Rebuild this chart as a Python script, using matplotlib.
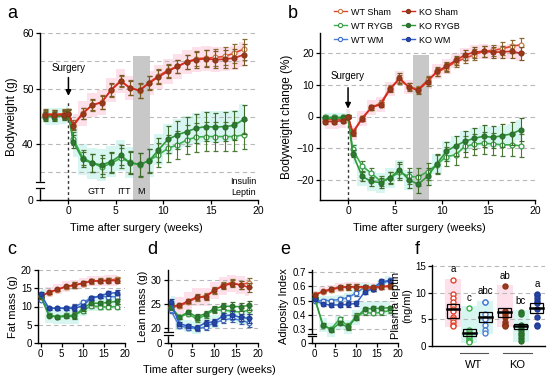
import matplotlib
matplotlib.use('Agg')
import matplotlib.pyplot as plt
from matplotlib.lines import Line2D
from matplotlib.patches import Rectangle
from matplotlib.transforms import blended_transform_factory

plt.rcParams['font.family'] = ['Liberation Sans', 'DejaVu Sans']

# ---------------- data ----------------
weeks_ab = [-2.5, -1.5, -0.5, 0, 0.5, 1.5, 2.5, 3.5, 4.5, 5.5, 6.5, 7.5, 8.5, 9.5,
            10.5, 11.5, 12.5, 13.5, 14.5, 15.5, 16.5, 17.5, 18.5]

bw_ko_sham = [45.3, 45.3, 45.3, 45.5, 43.3, 45.5, 47.1, 47.5, 49.8, 51.4, 50.1, 49.7, 51.0,
              52.1, 53.1, 54.0, 54.8, 55.2, 55.4, 55.2, 55.3, 55.5, 56.1]
bw_wt_sham = [45.5, 45.4, 45.5, 45.6, 43.5, 45.6, 47.0, 47.6, 49.7, 51.3, 50.2, 49.6, 51.1,
              52.3, 53.3, 54.0, 54.8, 55.4, 55.5, 55.6, 55.8, 56.4, 57.1]
bw_ko_rygb = [45.0, 45.0, 45.1, 45.4, 40.5, 37.3, 36.6, 36.3, 36.9, 38.0, 36.7, 36.4, 37.0,
              39.0, 40.9, 41.7, 42.3, 42.9, 43.2, 43.1, 43.2, 43.4, 44.5]
bw_wt_rygb = [45.2, 45.2, 45.3, 45.5, 41.0, 37.6, 36.7, 35.9, 36.6, 37.5, 36.8, 36.3, 37.1,
              38.1, 39.3, 39.9, 40.8, 41.3, 41.4, 41.4, 41.4, 41.4, 41.7]
bw_err_sham = [0.8, 0.8, 0.8, 0.8, 0.8, 1.0, 1.0, 1.2, 1.2, 1.0, 1.3, 1.3, 1.2, 1.2, 1.2,
               1.2, 1.3, 1.4, 1.5, 1.5, 1.6, 1.7, 1.9]
bw_err_rygb = [0.8, 0.8, 0.8, 0.8, 1.2, 1.4, 1.6, 1.7, 1.8, 1.8, 2.0, 2.1, 2.1, 2.2, 2.4,
               2.5, 2.6, 2.6, 2.6, 2.6, 2.6, 2.6, 2.6]

pc_ko_sham = [-1.6, -1.6, -1.3, 0.0, -5.3, -0.7, 2.9, 3.8, 8.7, 12.2, 9.3, 8.3, 11.1, 14.3,
              15.9, 17.8, 19.5, 20.4, 20.7, 20.4, 20.5, 20.7, 20.0]
pc_wt_sham = [-1.0, -1.0, -0.8, 0.0, -5.0, -0.5, 2.8, 4.3, 9.0, 11.7, 9.5, 8.6, 11.5, 14.0,
              15.5, 17.3, 18.5, 19.6, 20.7, 21.0, 21.5, 22.3, 22.8]
pc_ko_rygb = [-0.5, -0.5, -0.4, 0.0, -11.8, -19.0, -20.6, -21.0, -19.4, -16.9, -20.1, -21.5,
              -19.0, -15.0, -11.1, -9.3, -7.9, -6.9, -6.3, -6.6, -6.1, -5.5, -4.2]
pc_wt_rygb = [-0.2, -0.3, -0.2, 0.0, -10.4, -15.7, -18.0, -20.6, -19.5, -17.7, -19.0, -19.2,
              -17.5, -15.3, -12.7, -12.2, -9.5, -8.8, -8.5, -8.7, -9.0, -9.0, -9.3]
pc_err_sham = [0.8, 0.8, 0.8, 0.5, 1.0, 0.8, 0.8, 0.8, 1.0, 1.5, 1.2, 1.2, 1.3, 1.3, 1.5,
               1.5, 1.5, 1.8, 1.8, 1.8, 2.0, 2.0, 2.2]
pc_err_rygb = [0.8, 0.8, 0.8, 0.5, 1.2, 1.5, 1.5, 1.6, 1.8, 2.5, 2.5, 2.8, 2.8, 3.0, 3.0,
               3.2, 3.3, 3.4, 3.5, 3.5, 3.6, 3.6, 3.6]

weeks_cde = [0, 2, 4, 6, 8, 10, 12, 14, 16, 18]

fat_ko_sham = [12.7, 13.9, 14.7, 15.5, 15.9, 16.4, 17.0, 17.0, 17.1, 17.1]
fat_wt_sham = [13.0, 13.8, 14.6, 15.4, 15.8, 16.3, 16.9, 17.1, 17.2, 17.5]
fat_ko_rygb = [12.9, 7.5, 7.1, 7.3, 7.3, 9.5, 10.9, 10.9, 11.1, 11.4]
fat_wt_rygb = [12.9, 7.7, 7.2, 7.6, 7.6, 8.8, 10.2, 10.0, 9.8, 10.0]
fat_ko_wm = [13.5, 9.5, 9.5, 9.5, 9.5, 10.2, 12.3, 12.9, 13.6, 13.8]
fat_wt_wm = [11.8, 9.6, 9.5, 9.6, 9.8, 11.1, 12.3, 12.8, 12.7, 12.7]
fat_err = [0.4, 0.4, 0.4, 0.5, 0.8, 0.6, 0.6, 0.6, 0.6, 0.6]

lean_ko_sham = [24.6, 24.8, 25.7, 26.5, 26.5, 27.9, 28.8, 29.3, 29.0, 28.5]
lean_wt_sham = [24.4, 24.6, 25.5, 26.3, 26.8, 27.8, 29.0, 29.5, 29.0, 29.5]
lean_ko_rygb = [24.5, 22.4, 23.4, 22.4, 23.1, 24.1, 24.6, 24.6, 24.5, 24.8]
lean_wt_rygb = [24.3, 22.3, 23.1, 21.9, 22.8, 23.8, 23.8, 23.6, 23.4, 23.8]
lean_ko_wm = [25.5, 21.0, 20.5, 20.2, 21.2, 21.4, 22.6, 22.8, 22.3, 22.1]
lean_wt_wm = [23.8, 20.5, 20.2, 20.0, 20.3, 21.2, 21.7, 22.1, 21.7, 21.2]
lean_err = [0.6, 0.4, 0.5, 0.6, 0.6, 0.6, 0.6, 0.8, 0.8, 0.9]

adi_ko_sham = [0.536, 0.566, 0.582, 0.594, 0.598, 0.598, 0.598, 0.594, 0.598, 0.605]
adi_wt_sham = [0.547, 0.560, 0.575, 0.590, 0.595, 0.595, 0.590, 0.585, 0.595, 0.600]
adi_ko_rygb = [0.520, 0.330, 0.293, 0.340, 0.312, 0.380, 0.438, 0.445, 0.445, 0.450]
adi_wt_rygb = [0.520, 0.323, 0.300, 0.370, 0.320, 0.390, 0.416, 0.410, 0.416, 0.430]
adi_ko_wm = [0.508, 0.473, 0.469, 0.469, 0.473, 0.480, 0.561, 0.584, 0.635, 0.640]
adi_wt_wm = [0.500, 0.500, 0.500, 0.508, 0.520, 0.554, 0.594, 0.584, 0.612, 0.647]
adi_err = [0.008, 0.008, 0.012, 0.015, 0.02, 0.02, 0.015, 0.015, 0.015, 0.015]

lep_groups = ['WT Sham', 'WT RYGB', 'WT WM', 'KO Sham', 'KO RYGB', 'KO WM']
lep_wt_sham = [12.3, 9.8, 9.0, 8.2, 7.5, 7.0, 6.5, 5.5, 5.0, 4.5, 4.0, 3.8]
lep_wt_rygb = [7.2, 3.0, 2.5, 2.0, 1.8, 1.5, 1.2, 1.0, 1.0, 0.8]
lep_wt_wm = [8.2, 8.2, 6.0, 5.0, 4.0, 3.0, 2.5]
lep_ko_sham = [11.2, 6.5, 6.0, 5.5, 4.5, 4.0, 4.0, 3.8]
lep_ko_rygb = [6.4, 6.0, 4.0, 3.5, 3.0, 2.5, 2.0, 1.5, 1.0]
lep_ko_wm = [9.8, 9.5, 9.0, 8.5, 8.0, 7.0, 5.5, 4.0, 3.8]
lep_mean = [6.9, 2.45, 5.4, 6.3, 3.8, 7.2]
lep_lo = [5.3, 1.9, 4.5, 5.5, 3.1, 6.1]
lep_hi = [7.85, 3.1, 6.3, 7.2, 4.2, 8.1]
lep_letters = ['a', 'c', 'abc', 'ab', 'bc', 'a']
lep_letter_y = [14.4, 9.0, 10.3, 13.1, 8.5, 11.7]

# ---------------- styles ----------------
C = {
    'wt_sham': dict(line='#e0452f', face='white', edge='#c87a45', err='#8a6a30'),
    'ko_sham': dict(line='#d42a1e', face='#9a3a1c', edge='#8a3418', err='#7a5a22'),
    'wt_rygb': dict(line='#3cb04a', face='white', edge='#3a9a46', err='#4a7a34'),
    'ko_rygb': dict(line='#2f9a3a', face='#2e7a30', edge='#2a6e2c', err='#3e6a2a'),
    'wt_wm': dict(line='#4a80d8', face='white', edge='#3d6cc8', err='#3d5a9a'),
    'ko_wm': dict(line='#2f5fc8', face='#2848a8', edge='#203c96', err='#2a3e8a'),
}
PINK = '#fde0ea'
CYAN = '#d8f6f1'
GRID = '#b8b8b8'

fig = plt.figure(figsize=(5.5, 3.76), dpi=100)
W, H = 550.0, 376.0


def axes_px(l, t, r, b):
    return fig.add_axes([l / W, 1 - b / H, (r - l) / W, (b - t) / H])


def series(ax, x, y, err, key, ms=3.8, z=3, lw=1.2):
    c = C[key]
    ax.errorbar(x, y, yerr=err, color=c['line'], marker='o', ms=ms, mfc=c['face'],
                mec=c['edge'], mew=0.9, lw=lw, ecolor=c['err'], elinewidth=0.8,
                capsize=1.8, capthick=0.8, zorder=z)


def band(ax, x, y, half, color):
    ax.fill_between(x, [v - half for v in y], [v + half for v in y], color=color,
                    lw=0, zorder=0.5, step='mid')


def base_style(ax, fs=7.5):
    for s in ['top', 'right']:
        ax.spines[s].set_visible(False)
    for s in ['left', 'bottom']:
        ax.spines[s].set_linewidth(1.0)
    ax.tick_params(labelsize=fs, length=3, width=0.9, pad=1.5)


def grid(ax, vals):
    for v in vals:
        ax.axhline(v, color=GRID, lw=0.8, ls=(0, (4, 3)), zorder=0.6)


def brk(ax, y1, y2, half=0.02):
    tr = blended_transform_factory(ax.transAxes, ax.transData)
    ax.add_patch(Rectangle((-0.01, y1), 0.02, y2 - y1, transform=tr, color='white',
                           clip_on=False, zorder=6))
    for yy in (y1, y2):
        ax.plot([-half, half], [yy, yy], transform=tr, color='black', lw=0.9,
                clip_on=False, zorder=7)


# ---------------- panel a ----------------
ax = axes_px(40, 33, 258, 200)
base_style(ax)
ax.set_xlim(-3, 20)
ax.set_ylim(30, 60)
grid(ax, [35, 40, 45, 50, 55, 60])
band(ax, weeks_ab[4:], bw_ko_sham[4:], 2.2, PINK)
band(ax, weeks_ab[4:], bw_ko_rygb[4:], 2.8, CYAN)
band(ax, weeks_ab[:4], bw_ko_rygb[:4], 1.5, CYAN)
ax.add_patch(Rectangle((6.8, 30), 1.8, 25.9, color='#c8c8c8', lw=0, zorder=0.7))
ax.plot([0, 0], [30, 47.6], color='#333333', lw=1.0, ls=(0, (2, 2)), zorder=2)
ax.annotate('', xy=(0, 48.2), xytext=(0, 52.5),
            arrowprops=dict(arrowstyle='-|>', color='black', lw=1.1, mutation_scale=8))
ax.text(0, 53.8, 'Surgery', ha='center', va='center', fontsize=7)
series(ax, weeks_ab, bw_wt_rygb, bw_err_rygb, 'wt_rygb', ms=3.5, z=3)
series(ax, weeks_ab, bw_ko_rygb, bw_err_rygb, 'ko_rygb', ms=3.5, z=4)
series(ax, weeks_ab, bw_wt_sham, bw_err_sham, 'wt_sham', ms=3.5, z=3)
series(ax, weeks_ab, bw_ko_sham, bw_err_sham, 'ko_sham', ms=3.5, z=4)
for txt, xx in [('GTT', 3.0), ('ITT', 5.9), ('M', 7.65)]:
    ax.text(xx, 31.6, txt, ha='center', va='center', fontsize=6.5)
ax.text(18.45, 32.3, 'Insulin\nLeptin', ha='center', va='center', fontsize=6.5,
        linespacing=1.3)
ax.set_xticks([0, 5, 10, 15, 20])
ax.set_yticks([30, 40, 50, 60])
ax.set_yticklabels(['0', '40', '50', '60'])
brk(ax, 32.2, 33.2, half=0.018)
ax.set_ylabel('Bodyweight (g)', fontsize=8.5, labelpad=3)
ax.set_xlabel('Time after surgery (weeks)', fontsize=8)
ax.xaxis.set_label_coords(0.443, -0.138)
fig.text(7 / W, 1 - 13 / H, 'a', fontsize=13, ha='left', va='center')

# ---------------- panel b ----------------
ax = axes_px(320, 33, 535, 200)
base_style(ax)
ax.set_xlim(-3, 20)
ax.set_ylim(-26.5, 26.5)
grid(ax, [-20, -10, 0, 10, 20])
band(ax, weeks_ab, pc_ko_sham, 2.3, PINK)
band(ax, weeks_ab[4:], pc_ko_rygb[4:], 3.2, CYAN)
band(ax, weeks_ab[:4], pc_ko_rygb[:4], 1.6, CYAN)
ax.add_patch(Rectangle((6.9, -26.5), 1.8, 45.9, color='#c8c8c8', lw=0, zorder=0.7))
ax.plot([0, 0], [-26.5, 1.0], color='#333333', lw=1.0, ls=(0, (2, 2)), zorder=2)
ax.annotate('', xy=(0, 1.6), xytext=(0, 10.0),
            arrowprops=dict(arrowstyle='-|>', color='black', lw=1.1, mutation_scale=8))
ax.text(0, 12.7, 'Surgery', ha='center', va='center', fontsize=7)
series(ax, weeks_ab, pc_wt_rygb, pc_err_rygb, 'wt_rygb', ms=3.5, z=3)
series(ax, weeks_ab, pc_ko_rygb, pc_err_rygb, 'ko_rygb', ms=3.5, z=4)
series(ax, weeks_ab, pc_wt_sham, pc_err_sham, 'wt_sham', ms=3.5, z=3)
series(ax, weeks_ab, pc_ko_sham, pc_err_sham, 'ko_sham', ms=3.5, z=4)
ax.set_xticks([0, 5, 10, 15, 20])
ax.set_yticks([-20, -10, 0, 10, 20])
ax.set_ylabel('Bodyweight change (%)', fontsize=8.5, labelpad=2)
ax.set_xlabel('Time after surgery (weeks)', fontsize=8)
ax.xaxis.set_label_coords(0.463, -0.138)
fig.text(288 / W, 1 - 13 / H, 'b', fontsize=13, ha='left', va='center')

# legend
handles, labels = [], []
for key, lab in [('wt_sham', 'WT Sham'), ('wt_rygb', 'WT RYGB'), ('wt_wm', 'WT WM'),
                 ('ko_sham', 'KO Sham'), ('ko_rygb', 'KO RYGB'), ('ko_wm', 'KO WM')]:
    c = C[key]
    handles.append(Line2D([0], [0], color=c['line'], marker='o', ms=3.0, mfc=c['face'],
                          mec=c['edge'], mew=0.8, lw=1.0))
    labels.append(lab)
fig.legend(handles, labels, ncol=2, loc='upper left', bbox_to_anchor=(330 / W, 1 - 4 / H),
           frameon=False, fontsize=6.5, handlelength=1.5, columnspacing=1.0,
           labelspacing=0.55, handletextpad=0.4, borderaxespad=0)

# ---------------- panel c ----------------
ax = axes_px(38, 270, 125, 343)
base_style(ax, fs=7)
ax.set_xlim(-0.6, 20)
ax.set_ylim(0, 20)
grid(ax, [5, 10, 15, 20])
band(ax, weeks_cde, fat_ko_sham, 1.4, PINK)
band(ax, weeks_cde, fat_ko_rygb, 2.0, CYAN)
series(ax, weeks_cde, fat_wt_sham, fat_err, 'wt_sham', ms=3.3, z=3, lw=1.1)
series(ax, weeks_cde, fat_ko_sham, fat_err, 'ko_sham', ms=3.3, z=4, lw=1.1)
series(ax, weeks_cde, fat_wt_rygb, fat_err, 'wt_rygb', ms=3.3, z=3, lw=1.1)
series(ax, weeks_cde, fat_ko_rygb, fat_err, 'ko_rygb', ms=3.3, z=4, lw=1.1)
series(ax, weeks_cde, fat_wt_wm, fat_err, 'wt_wm', ms=3.3, z=3, lw=1.1)
series(ax, weeks_cde, fat_ko_wm, fat_err, 'ko_wm', ms=3.3, z=4, lw=1.1)
ax.set_xticks([0, 5, 10, 15, 20])
ax.set_yticks([0, 5, 10, 15, 20])
ax.set_ylabel('Fat mass (g)', fontsize=8, labelpad=2)
fig.text(7 / W, 1 - 249 / H, 'c', fontsize=13, ha='left', va='center')

# ---------------- panel d ----------------
ax = axes_px(168, 270, 258, 343)
base_style(ax, fs=7)
ax.set_xlim(-0.6, 20)
ax.set_ylim(17, 32.1)
grid(ax, [20, 25, 30])
band(ax, weeks_cde, lean_ko_sham, 1.8, PINK)
band(ax, weeks_cde, lean_ko_wm, 1.3, CYAN)
series(ax, weeks_cde, lean_wt_sham, lean_err, 'wt_sham', ms=3.3, z=3, lw=1.1)
series(ax, weeks_cde, lean_ko_sham, lean_err, 'ko_sham', ms=3.3, z=4, lw=1.1)
series(ax, weeks_cde, lean_wt_rygb, lean_err, 'wt_rygb', ms=3.3, z=3, lw=1.1)
series(ax, weeks_cde, lean_ko_rygb, lean_err, 'ko_rygb', ms=3.3, z=4, lw=1.1)
series(ax, weeks_cde, lean_wt_wm, lean_err, 'wt_wm', ms=3.3, z=3, lw=1.1)
series(ax, weeks_cde, lean_ko_wm, lean_err, 'ko_wm', ms=3.3, z=4, lw=1.1)
ax.set_xticks([0, 5, 10, 15, 20])
ax.set_yticks([17, 20, 25, 30])
ax.set_yticklabels(['0', '20', '25', '30'])
brk(ax, 18.6, 19.3, half=0.05)
ax.set_ylabel('Lean mass (g)', fontsize=8, labelpad=2)
ax.set_xlabel('Time after surgery (weeks)', fontsize=8)
ax.xaxis.set_label_coords(0.456, -0.30)
fig.text(147 / W, 1 - 249 / H, 'd', fontsize=13, ha='left', va='center')

# ---------------- panel e ----------------
ax = axes_px(312, 270, 398, 343)
base_style(ax, fs=7)
ax.set_xlim(-0.6, 20)
ax.set_ylim(0.2, 0.716)
grid(ax, [0.3, 0.4, 0.5, 0.6, 0.7])
band(ax, weeks_cde, adi_ko_sham, 0.03, PINK)
band(ax, weeks_cde, adi_ko_rygb, 0.05, CYAN)
band(ax, weeks_cde, adi_wt_wm, 0.03, CYAN)
series(ax, weeks_cde, adi_wt_rygb, adi_err, 'wt_rygb', ms=3.3, z=3, lw=1.1)
series(ax, weeks_cde, adi_ko_rygb, adi_err, 'ko_rygb', ms=3.3, z=4, lw=1.1)
series(ax, weeks_cde, adi_wt_wm, adi_err, 'wt_wm', ms=3.3, z=3, lw=1.1)
series(ax, weeks_cde, adi_ko_wm, adi_err, 'ko_wm', ms=3.3, z=4, lw=1.1)
series(ax, weeks_cde, adi_wt_sham, adi_err, 'wt_sham', ms=3.3, z=3, lw=1.1)
series(ax, weeks_cde, adi_ko_sham, adi_err, 'ko_sham', ms=3.3, z=4, lw=1.1)
ax.set_xticks([0, 5, 10, 15, 20])
ax.set_yticks([0.2, 0.3, 0.4, 0.5, 0.6, 0.7])
ax.set_yticklabels(['0', '0.3', '0.4', '0.5', '0.6', '0.7'])
brk(ax, 0.248, 0.262, half=0.05)
ax.set_ylabel('Adiposity Index', fontsize=8, labelpad=2)
fig.text(280 / W, 1 - 250 / H, 'e', fontsize=13, ha='left', va='center')

# ---------------- panel f ----------------
ax = axes_px(432, 265, 545, 346)
base_style(ax, fs=7)
ax.set_xlim(-1.3, 5.7)
ax.set_ylim(0, 15.2)
grid(ax, [5, 10, 15])
lep_points = [lep_wt_sham, lep_wt_rygb, lep_wt_wm, lep_ko_sham, lep_ko_rygb, lep_ko_wm]
lep_keys = ['wt_sham', 'wt_rygb', 'wt_wm', 'ko_sham', 'ko_rygb', 'ko_wm']
lep_x = [0, 1, 2, 3.2, 4.2, 5.2]
shade = [PINK, CYAN, CYAN, PINK, CYAN, None]
for i, (xx, pts, key) in enumerate(zip(lep_x, lep_points, lep_keys)):
    c = C[key]
    if shade[i]:
        ax.add_patch(Rectangle((xx - 0.5, min(pts) - 0.3), 1.0, max(pts) - min(pts) + 0.6,
                               color=shade[i], lw=0, zorder=0.5))
    ax.plot([xx] * len(pts), pts, ls='none', marker='o', ms=3.6, mfc=c['face'],
            mec=c['edge'] if key.startswith('ko') else c['line'], mew=1.0, zorder=3)
    ax.add_patch(Rectangle((xx - 0.4, lep_lo[i]), 0.8, lep_hi[i] - lep_lo[i], fill=False,
                           ec='black', lw=0.9, zorder=4))
    ax.plot([xx - 0.4, xx + 0.4], [lep_mean[i], lep_mean[i]], color='black', lw=1.8, zorder=5)
    ax.text(xx, lep_letter_y[i], lep_letters[i], ha='center', va='center', fontsize=7)
ax.set_xticks([])
ax.set_yticks([0, 5, 10, 15])
ax.set_ylabel('Plasma leptin\n(ng/ml)', fontsize=8, labelpad=2, linespacing=1.1)
tr = blended_transform_factory(ax.transData, ax.transAxes)
for lab, x0, x1 in [('WT', 0.43, 2.17), ('KO', 3.1, 4.9)]:
    ax.plot([x0, x1], [-0.085, -0.085], transform=tr, color='#555555', lw=0.8, clip_on=False)
    ax.text((x0 + x1) / 2, -0.23, lab, transform=tr, ha='center', va='center', fontsize=8)
fig.text(415 / W, 1 - 250 / H, 'f', fontsize=13, ha='left', va='center')

fig.savefig('out.png', dpi=100)
